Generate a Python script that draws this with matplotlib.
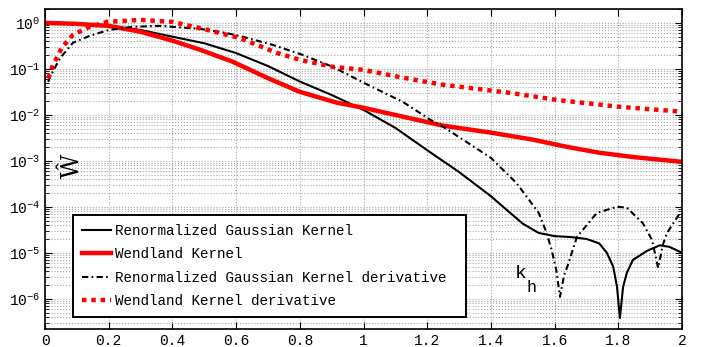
import matplotlib
matplotlib.use("Agg")
import matplotlib.pyplot as plt
from matplotlib.ticker import LogLocator, MultipleLocator, NullFormatter

# ---- data ----
gauss_x = [0.0, 0.1, 0.2, 0.3, 0.4, 0.5, 0.6, 0.7, 0.8, 0.9, 1.0, 1.1, 1.2, 1.3, 1.4,
           1.45, 1.5, 1.55, 1.6, 1.65, 1.7, 1.74, 1.764, 1.784, 1.796, 1.805, 1.815,
           1.827, 1.846, 1.89, 1.93, 1.96, 2.0]
gauss_y = [1.0, 0.96, 0.86, 0.70, 0.50, 0.36, 0.22, 0.115, 0.053, 0.027, 0.0128, 0.0052,
           0.0017, 5.7e-4, 1.7e-4, 8.5e-5, 4.3e-5, 2.7e-5, 2.3e-5, 2.2e-5, 2.0e-5, 1.6e-5,
           1.0e-5, 5.0e-6, 1.8e-6, 3.8e-7, 1.8e-6, 3.7e-6, 7.0e-6, 1.1e-5, 1.45e-5,
           1.35e-5, 1.0e-5]

wend_x = [0.0, 0.1, 0.2, 0.3, 0.4, 0.487, 0.59, 0.697, 0.80, 0.917, 1.0, 1.124, 1.25,
          1.40, 1.53, 1.64, 1.74, 1.85, 2.0]
wend_y = [1.0, 0.95, 0.86, 0.64, 0.41, 0.26, 0.142, 0.064, 0.0316, 0.0183, 0.0142,
          0.0091, 0.0058, 0.0041, 0.0029, 0.0020, 0.0015, 0.0012, 0.00095]

dgauss_x = [0.01, 0.016, 0.047, 0.088, 0.14, 0.20, 0.276, 0.36, 0.40, 0.487, 0.57, 0.62,
            0.716, 0.81, 0.904, 1.0, 1.124, 1.21, 1.25, 1.40, 1.48, 1.55, 1.575, 1.59,
            1.605, 1.617, 1.63, 1.64, 1.67, 1.733, 1.796, 1.827, 1.877, 1.906, 1.925,
            1.94, 1.953, 1.994]
dgauss_y = [0.052, 0.067, 0.17, 0.37, 0.52, 0.70, 0.82, 0.86, 0.82, 0.74, 0.60, 0.50,
            0.33, 0.20, 0.11, 0.05, 0.019, 0.0078, 0.0055, 0.00116, 3.3e-4, 7.4e-5,
            2.7e-5, 1.2e-5, 4.3e-6, 1.1e-6, 3.3e-6, 5.0e-6, 2.2e-5, 7.4e-5, 1.0e-4,
            9.6e-5, 4.4e-5, 1.9e-5, 4.7e-6, 1.5e-5, 2.7e-5, 7.4e-5]

dwend_x = [0.01, 0.025, 0.053, 0.088, 0.14, 0.195, 0.30, 0.40, 0.51, 0.61, 0.73, 0.80,
           0.904, 1.0, 1.124, 1.25, 1.46, 1.61, 1.80, 2.0]
dwend_y = [0.062, 0.12, 0.29, 0.55, 0.82, 1.05, 1.16, 1.05, 0.70, 0.47, 0.22, 0.157,
           0.11, 0.095, 0.064, 0.045, 0.030, 0.021, 0.015, 0.0117]

labels = ["Renormalized Gaussian Kernel", "Wendland Kernel",
          "Renormalized Gaussian Kernel derivative", "Wendland Kernel derivative"]

mono = ["Liberation Mono", "DejaVu Sans Mono"]
plt.rcParams['font.family'] = mono
plt.rcParams['mathtext.fontset'] = 'custom'
plt.rcParams['mathtext.rm'] = 'Liberation Mono'
plt.rcParams['mathtext.it'] = 'Liberation Mono'

fig = plt.figure(figsize=(7.1, 3.47), dpi=100)
ax = fig.add_axes([45/710, 18/347, 637/710, 320/347])

ax.plot(gauss_x, gauss_y, color='black', lw=1.5, label=labels[0])
ax.plot(wend_x, wend_y, color='red', lw=3.2, label=labels[1])
ax.plot(dgauss_x, dgauss_y, color='black', lw=1.5, linestyle=(0, (3, 1.6, 0.8, 1.6)),
        label=labels[2])
ax.plot(dwend_x, dwend_y, color='red', lw=3.2, linestyle=(0, (1, 1.1)),
        dash_capstyle='butt', label=labels[3])

ax.set_yscale('log')
ax.set_xlim(0, 2)
ax.set_ylim(2.2e-7, 2)
ax.xaxis.set_major_locator(MultipleLocator(0.2))
ax.xaxis.set_major_formatter(plt.FuncFormatter(lambda v, p: ('%g' % round(v, 1))))
ax.yaxis.set_major_locator(LogLocator(base=10, numticks=20))
ax.yaxis.set_minor_locator(LogLocator(base=10, subs=range(2, 10), numticks=100))
ax.yaxis.set_minor_formatter(NullFormatter())

ax.grid(True, which='major', color='#a8a8a8', linestyle=':', lw=0.8)
ax.grid(True, which='minor', axis='y', color='#a8a8a8', linestyle=':', lw=0.8)
ax.tick_params(which='both', direction='in', top=True, right=True, labelsize=10.5,
               colors='black')
ax.tick_params(which='major', length=5, width=0.8)
ax.tick_params(which='minor', length=3, width=0.6)
for s in ax.spines.values():
    s.set_linewidth(1.2)

leg = ax.legend(loc='upper left', bbox_to_anchor=(0.044, 0.056, 0.617, 0.3),
                mode='expand', borderaxespad=0,
                fontsize=10.3, handlelength=2.0, handletextpad=0.3, labelspacing=0.65,
                borderpad=0.62, fancybox=False, framealpha=1, edgecolor='black')
leg.get_frame().set_linewidth(1.4)

ax.text(0.043, 0.51, '\u0174', transform=ax.transAxes, rotation=90,
        ha='center', va='center', fontsize=17, family=['DejaVu Serif'])
ax.text(1.494, 3.5e-6, 'k', ha='center', va='center', fontsize=14)
ax.text(1.529, 1.8e-6, 'h', ha='center', va='center', fontsize=12)

fig.savefig('out.png', dpi=100)
